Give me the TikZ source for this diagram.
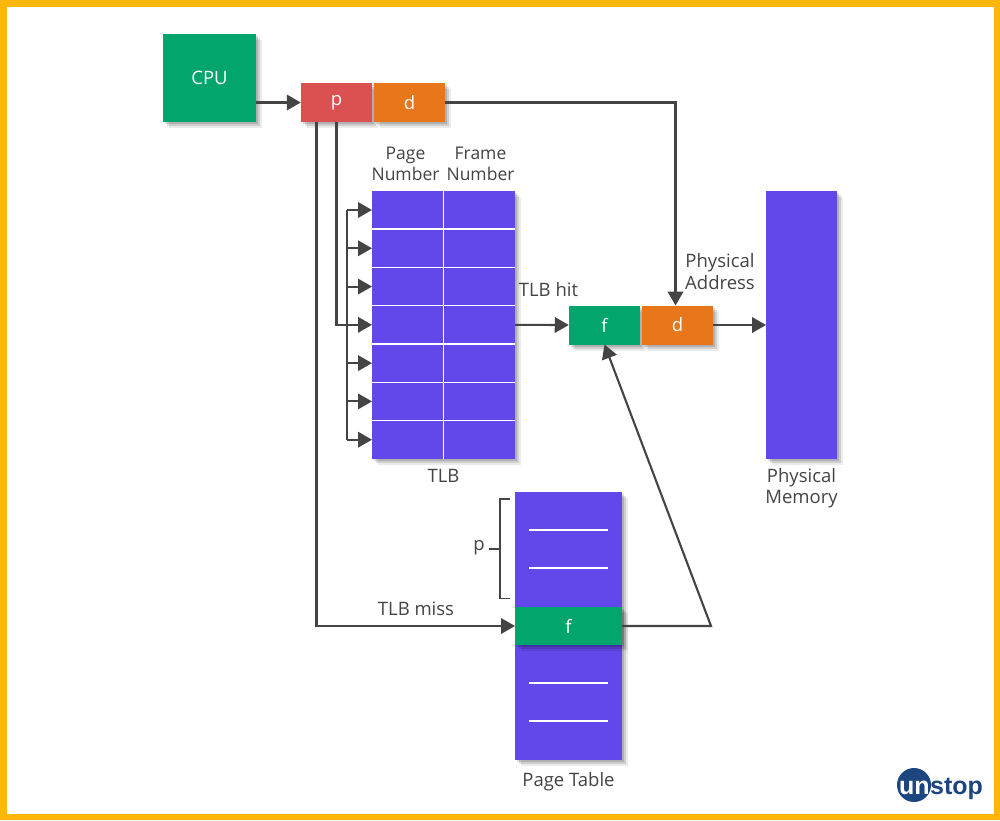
\documentclass[tikz,border=0pt]{standalone}
\usepackage{fontspec}
\setmainfont{Open Sans}
\newfontfamily\logofont{Liberation Sans}
\usetikzlibrary{arrows.meta, positioning, calc, shadows}
\definecolor{gold}{HTML}{FFB60A}
\definecolor{violet}{HTML}{6247EA}
\definecolor{jade}{HTML}{02A56B}
\definecolor{tomato}{HTML}{DB5050}
\definecolor{amber}{HTML}{E8761A}
\definecolor{ink}{HTML}{444444}
\definecolor{navy}{HTML}{1D4580}
\tikzset{
    soft/.style = {
        drop shadow={shadow xshift=2pt, shadow yshift=-2pt, opacity=.14, fill=black},
        drop shadow={shadow xshift=4pt, shadow yshift=-4pt, opacity=.12, fill=black},
        drop shadow={shadow xshift=6pt, shadow yshift=-6pt, opacity=.08, fill=black}},
    box/.style = {rectangle, inner sep=0pt, outer sep=0pt, text=white, soft,
        font=\fontsize{18.5}{20}\selectfont},
    half/.style = {box, minimum width=71.5pt, minimum height=39pt},
    cell/.style = {rectangle, inner sep=0pt, outer sep=0pt,
        minimum width=71.5pt, minimum height=38.3pt},
    lbl/.style = {text=ink, align=center, inner sep=0pt, font=\fontsize{18.5}{21.5}\selectfont},
    head/.style = {lbl, font=\fontsize{17.5}{21}\selectfont},
    lnk/.style = {ink, line width=2.1pt, -{Triangle[length=14pt, width=15.5pt]}},
    seg/.style = {ink, line width=2.1pt},
    rule/.style = {white, line width=1.4pt}
}
\begin{document}
\begin{tikzpicture}[x=1pt, y=-1pt]
\useasboundingbox (0,0) rectangle (1000,820);
% Frame
\draw[gold, line width=6.5pt, fill=white] (3.25,3.25) rectangle (996.75,816.75);

% Address from the CPU
\node[box, fill=jade, minimum width=93pt, minimum height=88pt] (CPU) at (209.5,77.5) {CPU};
\node[half, fill=tomato] (P) at (336.5,102.5) {p};
\node[half, fill=amber] (D) at (409.5,102.5) {d};

% TLB
\node[box, fill=violet, minimum width=143pt, minimum height=268pt] (TLB) at (443.5,325) {};
\foreach \i in {1,...,7} {
    \node[cell] (PG\i) at (407.75,{210+(\i-1)*38.28}) {};
    \node[cell] (FR\i) at (479.25,{210+(\i-1)*38.28}) {};
    \coordinate (BUS\i) at (347,{210+(\i-1)*38.28});
}
\foreach \i in {1,...,6} {
    \draw[rule] (PG\i.south west) -- (FR\i.south east);
}
\draw[rule] (PG1.north east) -- (PG7.south east);
\node[head] (PGT) at (405.5,163.5) {Page\\Number};
\node[head] (FRT) at (480.5,163.5) {Frame\\Number};
\node[lbl] (TLBT) at (443.5,476) {TLB};

% Physical address
\node[half, fill=jade] (F2) at (604.5,325) {f};
\node[half, fill=amber] (D2) at (677.5,325) {d};
\node[lbl] (PAT) at (720,271.5) {Physical\\Address};

% Physical memory
\node[box, fill=violet, minimum width=71pt, minimum height=268pt] (MEM) at (801.5,325) {};
\node[lbl] (MEMT) at (801.5,488) {Physical\\Memory};

% Page table
\node[box, fill=violet, minimum width=107pt, minimum height=268pt] (PT) at (568.5,626) {};
\node[box, fill=jade, minimum width=107pt, minimum height=38.5pt] (PF) at (568.5,626) {f};
\foreach \y in {530,568,683,721} {
    \draw[rule] (529,\y) -- (608,\y);
}
\node[lbl] (PTT) at (568.5,781.5) {Page Table};
\node[lbl] (PLBL) at (479,548) {p};
\draw[seg, line width=1.8pt] (510,499) -- (500,499) -- (500,598.5) -- (510,598.5);
\draw[seg, line width=1.8pt] (489,549) -- (500,549);

% Connectors
\draw[lnk] (CPU.east |- P.west) -- (P.west);
\draw[lnk] (D.east) -| ([xshift=-2pt]D2.north);
\draw[seg] (P.south) |- (BUS4);
\draw[seg] (BUS1) -- (BUS7);
\foreach \i in {1,...,7} {
    \draw[lnk] (BUS\i) -- (PG\i.west);
}
\draw[lnk] (FR4.east) -- (F2.west);
\draw[lnk] (D2.east) -- (MEM.west);
\draw[lnk] ([xshift=-20pt]P.south) |- (PF.west);
\node[lbl] (MISS) at (416,609) {TLB miss};
\coordinate (TURN) at (711,626);
\draw[lnk] (PF.east) -- (TURN) -- (F2.south);
\node[lbl] (HIT) at (548.5,289.5) {TLB hit};

% Logo
\node[circle, fill=navy, minimum size=34pt, inner sep=0pt] (BADGE) at (914,785) {};
\node[inner sep=0pt, text=white, font=\logofont\bfseries\fontsize{25}{26}\selectfont, anchor=base west] (UN) at (899,794) {un};
\node[inner sep=0pt, text=navy, font=\logofont\bfseries\fontsize{25}{26}\selectfont, anchor=base west] (STOP) at (UN.base east) {stop};
\end{tikzpicture}
\end{document}
